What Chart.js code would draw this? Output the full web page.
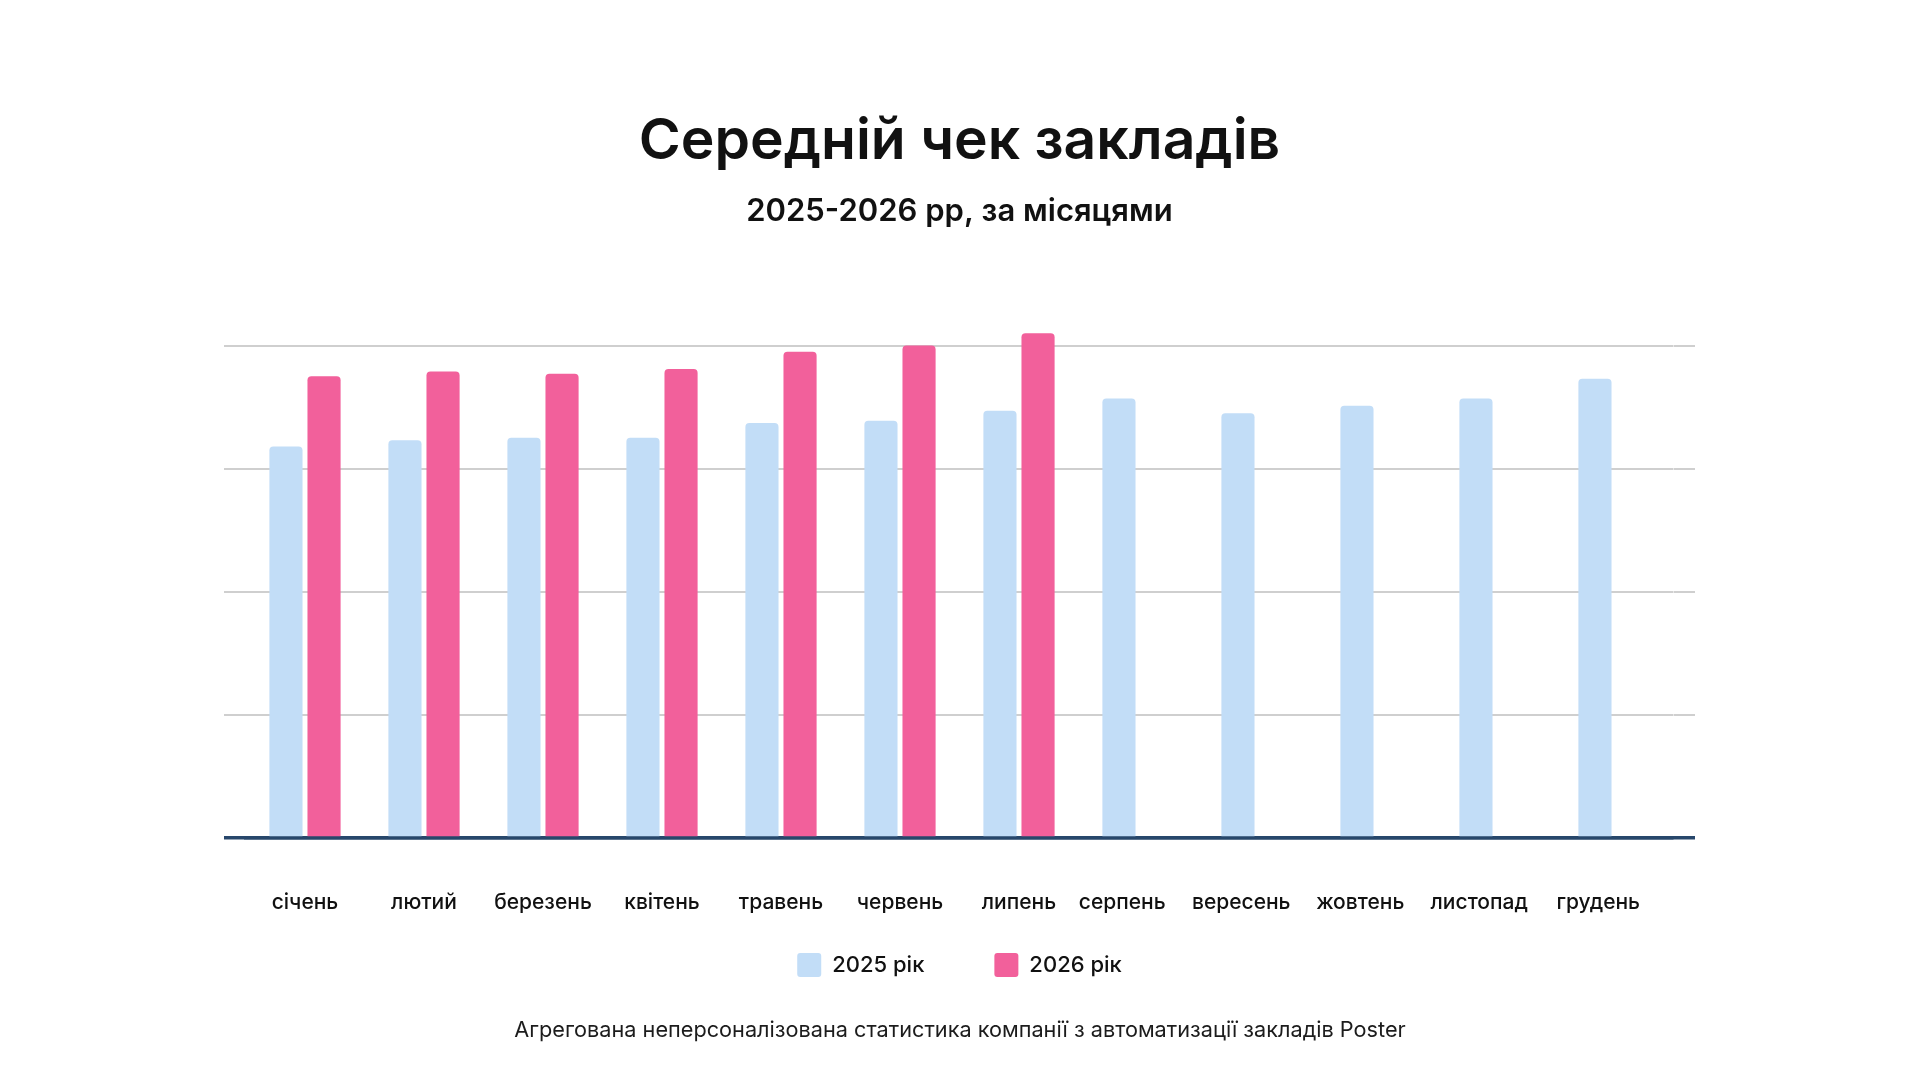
<!DOCTYPE html>
<html lang="uk">
<head>
<meta charset="utf-8">
<title>Середній чек закладів</title>
<script src="https://cdn.jsdelivr.net/npm/chart.js@4.4.1/dist/chart.umd.min.js"></script>
<style>
    html, body { margin: 0; padding: 0; background: #ffffff; }
    #wrap { width: 1920px; height: 1080px; }
</style>
</head>
<body>
<div id="wrap"><canvas id="avgCheckChart" width="1920" height="1080"></canvas></div>
<script>
// Chart data
const months = ['січень', 'лютий', 'березень', 'квітень', 'травень', 'червень',
    'липень', 'серпень', 'вересень', 'жовтень', 'листопад', 'грудень'];
const values2025 = [318, 323, 325, 325, 337, 339, 347, 357, 345, 351, 357, 373];
const values2026 = [375, 379, 377, 381, 395, 400, 410];
const seriesLabels = ['2025 рік', '2026 рік'];
const yTicks = [0, 100, 200, 300, 400];
const yMax = 430;

const titleText = 'Середній чек закладів';
const subtitleText = '2025-2026 рр, за місяцями';
const footerText = 'Агрегована неперсоналізована статистика компанії з автоматизації закладів Poster';

const FONT = 'Inter, "Noto Sans", sans-serif';
const BLUE = '#c2ddf7';
const PINK = '#f2609b';
const AXIS = '#27476b';
const GRID = '#cfcfcf';

// footer note under the legend
const footerPlugin = {
    id: 'footerNote',
    afterDraw(chart) {
        const ctx = chart.ctx;
        ctx.save();
        ctx.font = '400 21.7px ' + FONT;
        ctx.fillStyle = '#1c1c1c';
        ctx.textAlign = 'center';
        ctx.textBaseline = 'middle';
        ctx.fillText(footerText, chart.width / 2, chart.height - 50);
        ctx.restore();
    }
};

function gridColor(c) {
    return c.tick && c.tick.value === 0 ? AXIS : GRID;
}
function gridWidth(c) {
    return c.tick && c.tick.value === 0 ? 3.5 : 2;
}

function yScale(position, onArea) {
    return {
        position: position,
        display: true,
        min: 0,
        max: yMax,
        afterBuildTicks: scale => { scale.ticks = yTicks.map(v => ({ value: v })); },
        ticks: { display: false },
        border: { display: false },
        grid: {
            drawOnChartArea: onArea,
            drawTicks: true,
            tickLength: 21.5,
            color: gridColor,
            lineWidth: gridWidth
        }
    };
}

// wider gap between the two legend items (legend padding also sets the vertical spacing)
function legendLabels(chart) {
    const items = Chart.defaults.plugins.legend.labels.generateLabels(chart);
    if(items.length) items[0].text += '\u2003\u2002';
    return items;
}

// months with only one bar: label sits a bit to the left, under that bar
function monthLabel(value, index) {
    const name = months[index];
    return values2026[index] === undefined ? name + '\u2003\u2002' : name;
}

function buildChart() {
    const canvas = document.getElementById('avgCheckChart');
    if(!canvas) return;

    new Chart(canvas, {
        type: 'bar',
        data: {
            labels: months,
            datasets: [
                { label: seriesLabels[0], data: values2025, backgroundColor: BLUE, borderRadius: 4 },
                { label: seriesLabels[1], data: values2026, backgroundColor: PINK, borderRadius: 4 }
            ]
        },
        options: {
            responsive: false,
            animation: false,
            devicePixelRatio: 1,
            categoryPercentage: 0.64,
            barPercentage: 0.87,
            layout: { padding: { left: 224, right: 225, top: 0, bottom: 93 } },
            plugins: {
                title: {
                    display: true,
                    text: titleText,
                    color: '#111111',
                    font: { family: FONT, size: 57, weight: '600', lineHeight: 1.2 },
                    padding: { top: 108, bottom: 17 }
                },
                subtitle: {
                    display: true,
                    text: subtitleText,
                    color: '#111111',
                    font: { family: FONT, size: 31, weight: '600', lineHeight: 1.2 },
                    padding: { top: 0, bottom: 78 }
                },
                legend: {
                    position: 'bottom',
                    labels: {
                        color: '#111111',
                        font: { family: FONT, size: 22, weight: '500' },
                        boxWidth: 24,
                        boxHeight: 24,
                        padding: 37,
                        useBorderRadius: true,
                        borderRadius: 3,
                        generateLabels: legendLabels
                    }
                },
                tooltip: { enabled: false }
            },
            scales: {
                x: {
                    z: 1,
                    // padding is counted twice in the fitted height, trim it back
                    afterFit: scale => { scale.height = 78; },
                    grid: { display: false, drawTicks: false },
                    border: { display: true, color: AXIS, width: 3.5 },
                    ticks: {
                        color: '#111111',
                        padding: 52,
                        maxRotation: 0,
                        autoSkip: false,
                        callback: monthLabel,
                        font: { family: FONT, size: 21, weight: '500', lineHeight: 1.2 }
                    }
                },
                y: yScale('left', true),
                y2: yScale('right', false)
            }
        },
        plugins: [footerPlugin]
    });
}

document.addEventListener('DOMContentLoaded', buildChart);
</script>
</body>
</html>
